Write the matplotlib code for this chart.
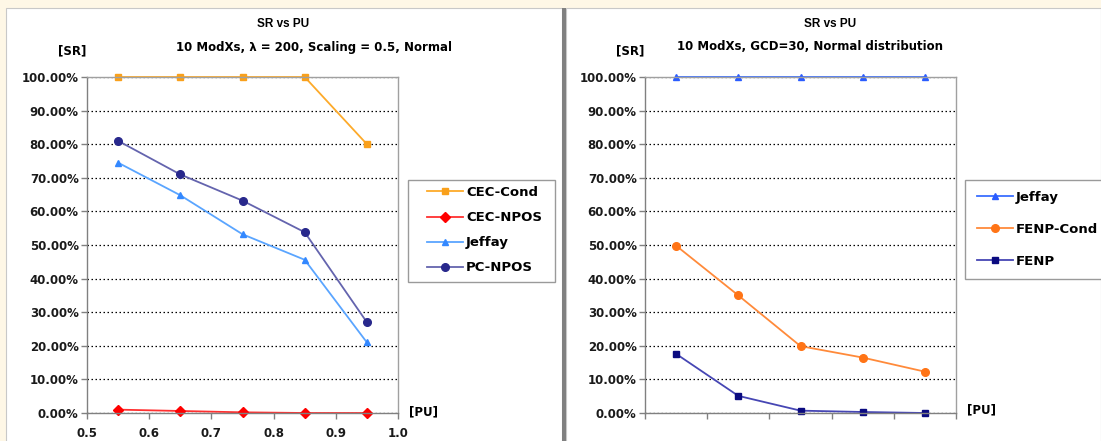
"""
SR vs PU: two Excel-style line charts side by side.
"""
import matplotlib.pyplot as plt
from matplotlib.patches import Rectangle
from matplotlib.ticker import FuncFormatter, MultipleLocator

# Left chart data (x = PU)
pu_left = [0.55, 0.65, 0.75, 0.85, 0.95]
cec_cond = [100.0, 100.0, 100.0, 100.0, 80.0]
cec_npos = [1.0, 0.6, 0.2, 0.0, 0.0]
jeffay_left = [74.5, 64.8, 53.2, 45.6, 21.0]
pc_npos = [81.0, 71.0, 63.2, 53.8, 27.0]

# Right chart data (category axis, no labels)
categories = ['c1', 'c2', 'c3', 'c4', 'c5']
jeffay_right = [100.0, 100.0, 100.0, 100.0, 100.0]
fenp_cond = [49.8, 35.0, 19.9, 16.5, 12.3]
fenp = [17.6, 5.1, 0.7, 0.3, 0.0]

W, H = 1101, 441
plt.rcParams['font.family'] = ['DejaVu Sans']
plt.rcParams['font.weight'] = 'bold'

fig = plt.figure(figsize=(W / 100, H / 100), dpi=100)
fig.patch.set_facecolor('#FEF7E6')


def px_rect(x0, y0, x1, y1):
    # pixel box (top-left origin) -> figure fraction [l, b, w, h]
    return [x0 / W, 1 - y1 / H, (x1 - x0) / W, (y1 - y0) / H]


def fig_box(x0, y0, x1, y1, **kw):
    l, b, w, h = px_rect(x0, y0, x1, y1)
    fig.patches.append(Rectangle((l, b), w, h, transform=fig.transFigure, **kw))


# white chart panels and divider
fig_box(6, 8, 562, H + 2, facecolor='white', edgecolor='#C8C8C8', lw=0.8, zorder=-2)
fig_box(566, 8, 1101, H + 2, facecolor='white', edgecolor='#C8C8C8', lw=0.8, zorder=-2)
fig_box(562, 8, 565.5, H + 2, facecolor='#808080', edgecolor='none', zorder=-1)
# legend frames
fig_box(408, 180, 555, 282, facecolor='white', edgecolor='#9A9A9A', lw=1.0, zorder=-1)
fig_box(965, 180, 1110, 279, facecolor='white', edgecolor='#9A9A9A', lw=1.0, zorder=-1)

pct = FuncFormatter(lambda v, p: f'{v:.2f}%')
FS = 8.5


def style_axes(ax):
    ax.set_zorder(2)
    ax.set_ylim(0, 100)
    ax.yaxis.set_major_locator(MultipleLocator(10))
    ax.yaxis.set_major_formatter(pct)
    ax.grid(axis='y', color='black', linestyle=(0, (1.2, 2.0)), linewidth=0.9)
    ax.set_axisbelow(True)
    for s in ax.spines.values():
        s.set_color('#A0A0A0')
        s.set_linewidth(1.0)
    ax.spines['left'].set_color('#808080')
    ax.spines['bottom'].set_color('#808080')
    ax.tick_params(axis='both', direction='out', length=4, width=1, color='#808080',
                   labelsize=FS, labelcolor='#1A1A1A', pad=2)
    for t in ax.get_yticklabels() + ax.get_xticklabels():
        t.set_fontweight('bold')


def put_legend(ax, x, y, spacing):
    ax.legend(loc='upper left', bbox_to_anchor=(x / W, 1 - y / H), bbox_transform=fig.transFigure,
              frameon=False, fontsize=9.5, handlelength=2.7, labelspacing=spacing,
              borderpad=0, handletextpad=0.25, borderaxespad=0)


# ---- left chart ----
axl = fig.add_axes(px_rect(87, 77, 398, 413))
style_axes(axl)
axl.set_xlim(0.5, 1.0)
axl.set_xticks([0.5, 0.6, 0.7, 0.8, 0.9, 1.0])
axl.set_xticklabels(['0.5', '0.6', '0.7', '0.8', '0.9', '1.0'], fontweight='bold')
axl.tick_params(axis='x', pad=6)
axl.plot(pu_left, cec_cond, '-s', color='#FDAA2A', mfc='#F9A01B', mec='#F9A01B', ms=5, lw=1.3,
         label='CEC-Cond', clip_on=False)
axl.plot(pu_left, cec_npos, '-D', color='#FF3030', mfc='#FF0000', mec='#FF0000', ms=5, lw=1.3,
         label='CEC-NPOS', clip_on=False)
axl.plot(pu_left, jeffay_left, '-^', color='#5AA5FF', mfc='#3388FF', mec='#3388FF', ms=5, lw=1.3,
         label='Jeffay', clip_on=False)
axl.plot(pu_left, pc_npos, '-o', color='#6464AE', mfc='#28288C', mec='#28288C', ms=5.5, lw=1.3,
         label='PC-NPOS', clip_on=False)
put_legend(axl, 427, 186, 0.92)
fig.text(283 / W, 1 - 24 / H, 'SR vs PU', ha='center', va='center', fontsize=8.5, fontweight='bold',
         family='Liberation Sans')
fig.text(314 / W, 1 - 47 / H, '10 ModXs, λ = 200, Scaling = 0.5, Normal', ha='center', va='center',
         fontsize=FS, fontweight='bold')
fig.text(72 / W, 1 - 51 / H, '[SR]', ha='center', va='center', fontsize=FS, fontweight='bold')
fig.text(424 / W, 1 - 412 / H, '[PU]', ha='center', va='center', fontsize=FS, fontweight='bold')

# ---- right chart ----
axr = fig.add_axes(px_rect(645, 77, 956, 413))
style_axes(axr)
xr = list(range(len(categories)))
axr.set_xlim(-0.5, len(categories) - 0.5)
axr.set_xticks([i - 0.5 for i in range(len(categories) + 1)])
axr.set_xticklabels([])
axr.plot(xr, jeffay_right, '-^', color='#3A6EFF', mfc='#2A5CFF', mec='#2A5CFF', ms=5, lw=1.3,
         label='Jeffay', clip_on=False)
axr.plot(xr, fenp_cond, '-o', color='#FF8A3A', mfc='#FF7416', mec='#FF7416', ms=5.5, lw=1.3,
         label='FENP-Cond', clip_on=False)
axr.plot(xr, fenp, '-s', color='#4646B4', mfc='#0A0A80', mec='#0A0A80', ms=5, lw=1.3,
         label='FENP', clip_on=False)
put_legend(axr, 977, 191, 1.43)
fig.text(830 / W, 1 - 24 / H, 'SR vs PU', ha='center', va='center', fontsize=8.5, fontweight='bold',
         family='Liberation Sans')
fig.text(810 / W, 1 - 47 / H, '10 ModXs, GCD=30, Normal distribution', ha='center', va='center',
         fontsize=FS, fontweight='bold')
fig.text(630 / W, 1 - 51 / H, '[SR]', ha='center', va='center', fontsize=FS, fontweight='bold')
fig.text(982 / W, 1 - 410 / H, '[PU]', ha='center', va='center', fontsize=FS, fontweight='bold')

fig.savefig('out.png', dpi=100)
